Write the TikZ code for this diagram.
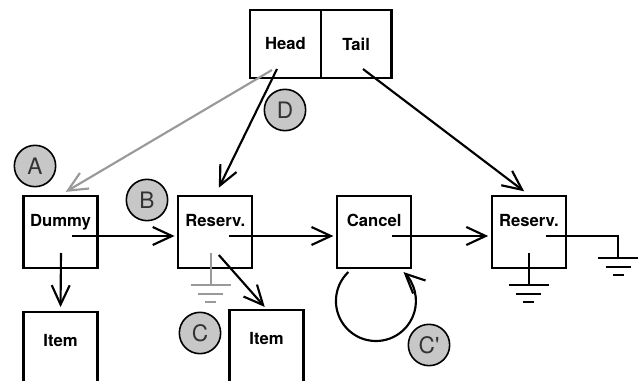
\documentclass[tikz,border=0pt]{standalone}
\usepackage{fontspec}
\setmainfont{TeX Gyre Heros}
\newfontfamily\tagfont{TeX Gyre Heros}[Ligatures=TeXOff]
\usetikzlibrary{positioning, arrows.meta}
\tikzset{
every picture/.style={
line width=1.6pt
},
ground/.pic={
\draw (-20,0) -- (20,0) (-12.5,-9) -- (12.5,-9) (-5.5,-17) -- (5.5,-17);
}}

\begin{document}
\begin{tikzpicture}[x=0.75pt, y=0.75pt,
box/.style = {rectangle, draw=black, minimum width=55.5pt, minimum height=54pt,
  font=\fontsize{12.5}{15}\selectfont\bfseries, text height=9pt, text depth=18pt},
itembox/.style = {box, minimum height=60pt},
half/.style = {rectangle, draw=black, minimum width=53pt, minimum height=51pt,
  outer sep=0pt, font=\fontsize{12.5}{15}\selectfont\bfseries},
tag/.style = {circle, draw=black, line width=1.2pt, fill=black!22, minimum size=31pt,
  inner sep=0pt, font=\tagfont\fontsize{17}{20}\selectfont, text=black!80},
ptr/.style = {-{Straight Barb[length=14.5pt,width=13.5pt]}},
node distance = 59pt]

  \useasboundingbox (0,0) rectangle (639,-381);

  \node[box] (dummy) at (60.5,-232) {Dummy};
  \node[box, right=of dummy] (res1) {Reserv.};
  \node[box, right=62pt of res1] (cancel) {Cancel};
  \node[box, right=of cancel] (res2) {Reserv.};
  \node[itembox, below=31.5pt of dummy] (item1) {Item};
  \node[itembox] (item2) at (266.5,-350) {Item};

  \node[half] (head) at (285.5,-44) {Head};
  \node[half, right=0pt of head] (tail) {Tail};

  \node[tag] (ta) at (35,-166) {A};
  \node[tag] (tb) at (147,-200) {B};
  \node[tag] (tc) at (200,-333) {C};
  \node[tag] (td) at (285,-110) {D};
  \node[tag] (tc2) at (429,-345) {C'};

  % pointer origins
  \coordinate (hp1) at ([shift={(-13.5,-26)}]head.center);
  \coordinate (hp2) at ([shift={(-8.5,-25)}]head.center);
  \coordinate (tp) at ([shift={(6.8,-25)}]tail.center);
  \coordinate (dp) at ([shift={(11.5,-4)}]dummy.center);
  \coordinate (dq) at ([shift={(0.5,-21)}]dummy.center);
  \coordinate (r1p) at ([shift={(13.5,-4)}]res1.center);
  \coordinate (r1q) at ([shift={(3.5,-23)}]res1.center);
  \coordinate (r1g) at ([shift={(-4.5,-21)}]res1.center);
  \coordinate (cp) at ([shift={(17.8,-4)}]cancel.center);
  \coordinate (cloop) at ([shift={(-25.7,-40)}]cancel.center);
  \coordinate (r2p) at ([shift={(17,-4)}]res2.center);
  \coordinate (r2g) at ([shift={(0,-21)}]res2.center);
  \coordinate (gnd) at (618,-236);

  \draw[ptr, black!40, shorten >=4.5pt] (hp1) -- (dummy.north);
  \draw[ptr, shorten >=6pt] (hp2) -- (res1.north);
  \draw[ptr, shorten >=4.5pt] (tp) -- (res2.north);

  \draw[ptr, shorten >=2pt] (dp) -- ([yshift=-3pt]res1.west);
  \draw[ptr, shorten >=2pt] (r1p) -- ([yshift=-3pt]cancel.west);
  \draw[ptr, shorten >=2pt] (cp) -- ([yshift=-3pt]res2.west);
  \draw[ptr, shorten >=3pt] (dq) -- (item1.north);
  \draw[ptr, shorten >=2pt] (r1q) -- (item2.north);
  \draw[ptr] (cloop) arc[start angle=133.5, end angle=406.5, radius=40];

  \draw[black!40] (r1g) -- ++(0,-32) pic[black!40] {ground};
  \draw (r2g) -- ++(0,-32) pic {ground};
  \draw (r2p) -- (gnd) -- ++(0,-22) pic {ground};

\end{tikzpicture}
\end{document}
